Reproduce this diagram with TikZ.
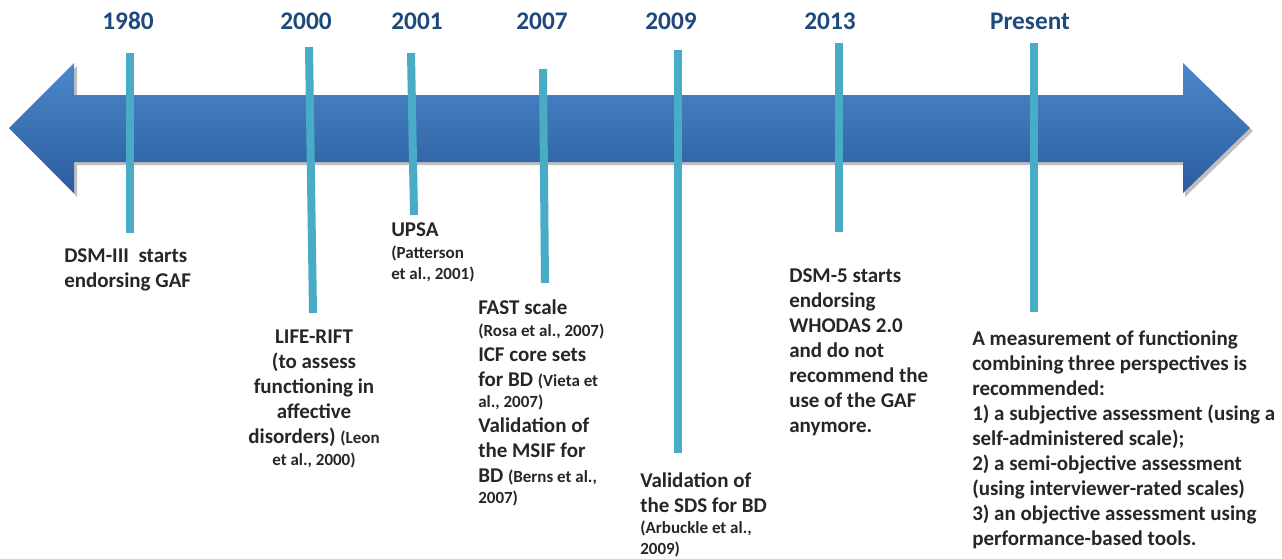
\documentclass[tikz,border=0pt]{standalone}
\usepackage{fontspec}
\setmainfont{Carlito}
\usepackage{xcolor}
\usepackage{tikz}

\definecolor{yearblue}{RGB}{31,73,125}
\definecolor{tickteal}{RGB}{72,172,198}
\definecolor{textgray}{RGB}{38,38,38}
\definecolor{arrowtop}{RGB}{76,136,202}
\definecolor{arrowmid}{RGB}{47,110,182}
\definecolor{arrowbot}{RGB}{42,92,158}
\newcommand{\refnote}[1]{{\fontsize{12.75}{15}\selectfont #1}}

\begin{document}
\begin{tikzpicture}[x=0.75pt, y=-0.75pt,
  year/.style={font=\fontsize{19}{22}\selectfont\bfseries, text=yearblue, anchor=base, inner sep=0pt},
  yearline/.style={draw=tickteal, line width=6pt},
  info/.style={font=\fontsize{15.75}{18.75}\selectfont\bfseries, text=textgray, align=left, anchor=base west, inner sep=0pt}]
  \useasboundingbox (0,0) rectangle (1282,558);

  % Pfeil
  \fill[black, opacity=0.25] (12,131) -- (77,66) -- (77,98) -- (1185,98) -- (1185,66) -- (1253,131)
    -- (1185,197) -- (1185,165) -- (77,165) -- (77,197) -- cycle;
  \shade[top color=arrowtop, middle color=arrowmid, bottom color=arrowbot]
    (9,128) -- (74,63) -- (74,95) -- (1183,95) -- (1183,63) -- (1250,128)
    -- (1183,193) -- (1183,162) -- (74,162) -- (74,193) -- cycle;

  % Jahreszahlen
  \node[year] (y1980) at (128,29) {1980};
  \node[year] (y2000) at (306,29) {2000};
  \node[year] (y2001) at (417,29) {2001};
  \node[year] (y2007) at (542,29) {2007};
  \node[year] (y2009) at (671,29) {2009};
  \node[year] (y2013) at (830,29) {2013};
  \node[year] (ynow) at (1030,29) {Present};

  % Linien
  \coordinate (t1980) at (130,53);  \coordinate (b1980) at (130,233);
  \coordinate (t2000) at (309,47);  \coordinate (b2000) at (313,313);
  \coordinate (t2001) at (411,53);  \coordinate (b2001) at (414,215);
  \coordinate (t2007) at (543,69);  \coordinate (b2007) at (545,283);
  \coordinate (t2009) at (678,50);  \coordinate (b2009) at (678,453);
  \coordinate (t2013) at (839,43);  \coordinate (b2013) at (839,232);
  \coordinate (tnow) at (1034,43);  \coordinate (bnow) at (1034,312);
  \draw[yearline] (t1980) -- (b1980);
  \draw[yearline] (t2000) -- (b2000);
  \draw[yearline] (t2001) -- (b2001);
  \draw[yearline] (t2007) -- (b2007);
  \draw[yearline] (t2009) -- (b2009);
  \draw[yearline] (t2013) -- (b2013);
  \draw[yearline] (tnow) -- (bnow);

  % Texte (Anker: Grundlinie der letzten Zeile)
  \node[info] (d1980) at (64,287) {DSM-III\ \ starts\\endorsing GAF};
  \node[info, align=center, anchor=base] (d2000) at (314,465)
    {LIFE-RIFT\\(to assess\\functioning in\\affective\\disorders) \refnote{(Leon}\\[-2.5pt]\refnote{et al., 2000)}};
  \node[info] (d2001) at (391,279)
    {UPSA\\[-2.3pt]\refnote{(Patterson}\\[-3pt]\refnote{et al., 2001)}};
  \node[info] (d2007) at (478,503)
    {FAST scale\\[-2.3pt]\refnote{(Rosa et al., 2007)}\\ICF core sets\\for BD \refnote{(Vieta et}\\[-3pt]\refnote{al., 2007)}\\
     Validation of\\the MSIF for\\BD \refnote{(Berns et al.,}\\[-3pt]\refnote{2007)}};
  \node[info] (d2009) at (640,554)
    {Validation of\\the SDS for BD\\[-3pt]\refnote{(Arbuckle et al.,}\\[-3pt]\refnote{2009)}};
  \node[info] (d2013) at (789,432)
    {DSM-5 starts\\endorsing\\WHODAS 2.0\\and do not\\recommend the\\use of the GAF\\anymore.};
  \node[info] (dnow) at (972,545)
    {A measurement of functioning\\combining three perspectives is\\recommended:\\
     1) a subjective assessment (using a\\self-administered scale);\\
     2) a semi-objective assessment\\(using interviewer-rated scales)\\
     3) an objective assessment using\\performance-based tools.};

\end{tikzpicture}
\end{document}
